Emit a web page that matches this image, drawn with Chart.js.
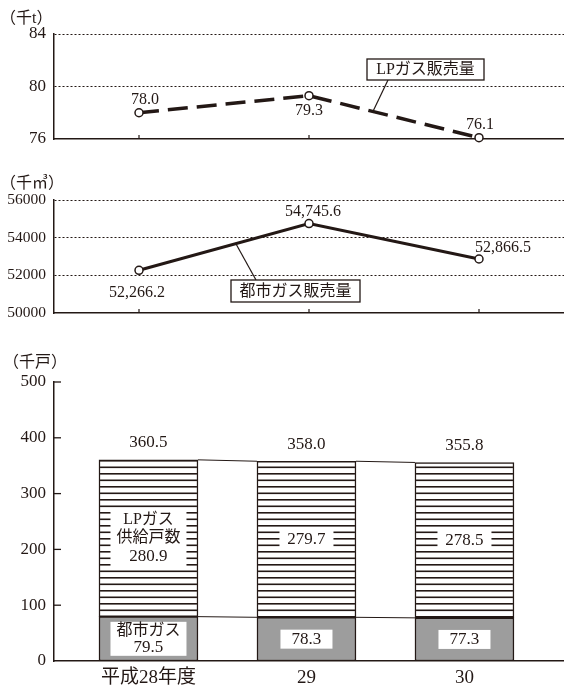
<!DOCTYPE html>
<html lang="ja">
<head>
<meta charset="utf-8">
<script src="https://cdn.jsdelivr.net/npm/chart.js@4.4.1/dist/chart.umd.min.js"></script>
<style>
  html, body { margin: 0; padding: 0; background: #fff; }
  #wrap { position: relative; width: 564px; height: 689px; overflow: hidden; }
  canvas { position: absolute; left: 0; }
</style>
</head>
<body>
<div id="wrap">
  <canvas id="lpChart" width="564" height="150" style="top:0px"></canvas>
  <canvas id="cityChart" width="564" height="170" style="top:150px"></canvas>
  <canvas id="hhChart" width="564" height="359" style="top:330px"></canvas>
</div>
<script>
// データ
const years = ['平成28年度', '29', '30'];
const lpSales = [78.0, 79.3, 76.1];                 // LPガス販売量 (千t)
const citySales = [52266.2, 54745.6, 52866.5];      // 都市ガス販売量 (千㎥)
const cityHouseholds = [79.5, 78.3, 77.3];          // 都市ガス (千戸)
const lpHouseholds = [280.9, 279.7, 278.5];         // LPガス供給戸数 (千戸)
const totalHouseholds = [360.5, 358.0, 355.8];      // 合計 (千戸)
const lpTicks = [76, 80, 84];
const cityTicks = [50000, 52000, 54000, 56000];
const hhTicks = [0, 100, 200, 300, 400, 500];

const INK = '#231815';
const GRAY = '#9d9d9d';
const FONT = '"Liberation Serif", "Noto Sans CJK JP", serif';
const font = size => `${size}px ${FONT}`;

function line(ctx, x1, y1, x2, y2) {
  ctx.beginPath();
  ctx.moveTo(x1, y1);
  ctx.lineTo(x2, y2);
  ctx.stroke();
}

function text(ctx, str, x, y, size, align) {
  ctx.font = font(size);
  ctx.fillStyle = INK;
  ctx.textAlign = align || 'center';
  ctx.textBaseline = 'middle';
  ctx.fillText(str, x, y);
}

// 白抜きの箱 (枠線あり/なし)
function box(ctx, cx, cy, w, h, border) {
  ctx.fillStyle = '#fff';
  ctx.fillRect(cx - w / 2, cy - h / 2, w, h);
  if (border) {
    ctx.strokeStyle = INK;
    ctx.lineWidth = 1.3;
    ctx.strokeRect(cx - w / 2, cy - h / 2, w, h);
  }
}

// 線上の点 (2点間の割合 t)
function along(a, b, t) {
  return { x: a.x + (b.x - a.x) * t, y: a.y + (b.y - a.y) * t };
}

const fmt1 = v => v.toFixed(1);
const fmtComma = v => v.toLocaleString('en-US', { minimumFractionDigits: 1, maximumFractionDigits: 1 });

// y軸の幅を固定し、目盛りラベルによる余白を消す
const fixY = w => s => { s.width = w; s.paddingTop = 0; s.paddingBottom = 0; };

function lineScales(ticks, tickSize, axisW, axisH) {
  return {
    x: {
      offset: true,
      grid: { display: false },
      border: { display: true, color: INK, width: 1.5 },
      ticks: { display: false },
      afterFit: s => { s.height = axisH; }
    },
    y: {
      min: ticks[0],
      max: ticks[ticks.length - 1],
      afterBuildTicks: s => { s.ticks = ticks.map(v => ({ value: v })); },
      ticks: { color: INK, font: { family: FONT, size: tickSize }, padding: 8, callback: v => String(v) },
      grid: {
        drawTicks: false,
        lineWidth: 1,
        color: c => (c.tick && c.tick.value === ticks[0]) ? 'rgba(0,0,0,0)' : INK
      },
      border: { display: true, color: INK, width: 1.5, dash: [2, 2] },
      afterFit: fixY(axisW)
    }
  };
}

const baseOptions = (top, scales) => ({
  responsive: false,
  animation: false,
  events: [],
  layout: { autoPadding: false, padding: { top: top, left: 0, right: 0, bottom: 0 } },
  plugins: { legend: { display: false }, tooltip: { enabled: false } },
  scales: scales
});

// 内向きの目盛り (x軸)
const innerTicks = {
  id: 'innerTicks',
  beforeDatasetsDraw(chart) {
    const ctx = chart.ctx;
    const xs = chart.scales.x;
    const bottom = chart.chartArea.bottom;
    ctx.save();
    ctx.strokeStyle = INK;
    ctx.lineWidth = 1.2;
    years.forEach((_, i) => {
      const px = xs.getPixelForValue(i);
      line(ctx, px, bottom, px, bottom - 4);
    });
    ctx.restore();
  }
};

// ---- LPガス販売量 ----
const lpLabels = {
  id: 'lpLabels',
  afterDatasetsDraw(chart) {
    const ctx = chart.ctx;
    const pts = chart.getDatasetMeta(0).data;
    ctx.save();
    text(ctx, '（千t）', 0, 19, 16, 'left');
    const off = [[6, -13], [0, 15], [1, -13]];
    pts.forEach((p, i) => text(ctx, fmt1(lpSales[i]), p.x + off[i][0], p.y + off[i][1], 16));
    // 吹き出し
    const tip = along(pts[1], pts[2], 0.376);
    ctx.strokeStyle = INK;
    ctx.lineWidth = 1.2;
    line(ctx, 388, 80, tip.x, tip.y);
    box(ctx, 425.5, 69.5, 117, 21, true);
    text(ctx, 'LPガス販売量', 425.5, 70, 16);
    ctx.restore();
  }
};

new Chart(document.getElementById('lpChart'), {
  type: 'line',
  data: {
    labels: years,
    datasets: [{
      data: lpSales,
      borderColor: INK,
      borderWidth: 3.5,
      borderDash: [20, 9],
      pointRadius: 4,
      pointBackgroundColor: '#fff',
      pointBorderColor: INK,
      pointBorderWidth: 1.5,
      tension: 0,
      clip: false
    }]
  },
  options: baseOptions(34, lineScales(lpTicks, 17, 54, 11)),
  plugins: [innerTicks, lpLabels]
});

// ---- 都市ガス販売量 ----
const cityLabels = {
  id: 'cityLabels',
  afterDatasetsDraw(chart) {
    const ctx = chart.ctx;
    const pts = chart.getDatasetMeta(0).data;
    ctx.save();
    text(ctx, '（千㎥）', 0, 34, 16, 'left');
    const off = [[-2, 22], [4, -12], [24, -11]];
    pts.forEach((p, i) => text(ctx, fmtComma(citySales[i]), p.x + off[i][0], p.y + off[i][1], 16));
    const tip = along(pts[0], pts[1], 0.57);
    ctx.strokeStyle = INK;
    ctx.lineWidth = 1.2;
    line(ctx, 256, 130, tip.x, tip.y);
    box(ctx, 295.5, 141, 129, 22, true);
    text(ctx, '都市ガス販売量', 295.5, 141.5, 16);
    ctx.restore();
  }
};

new Chart(document.getElementById('cityChart'), {
  type: 'line',
  data: {
    labels: years,
    datasets: [{
      data: citySales,
      borderColor: INK,
      borderWidth: 3,
      pointRadius: 4,
      pointBackgroundColor: '#fff',
      pointBorderColor: INK,
      pointBorderWidth: 1.5,
      tension: 0,
      clip: false
    }]
  },
  options: baseOptions(50, lineScales(cityTicks, 15.5, 54, 7)),
  plugins: [innerTicks, cityLabels]
});

// ---- 供給戸数 (積み上げ棒) ----
const hhCanvas = document.getElementById('hhChart');
function hatch() {
  const c = document.createElement('canvas');
  c.width = 8;
  c.height = 13;
  const g = c.getContext('2d');
  g.fillStyle = '#fff';
  g.fillRect(0, 0, 8, 13);
  g.fillStyle = INK;
  g.fillRect(0, 0, 8, 1.6);
  g.fillRect(0, 6.5, 8, 1.6);
  return hhCanvas.getContext('2d').createPattern(c, 'repeat');
}

const hhLabels = {
  id: 'hhLabels',
  afterDatasetsDraw(chart) {
    const ctx = chart.ctx;
    const ys = chart.scales.y;
    const ca = chart.chartArea;
    const bars = chart.getDatasetMeta(0).data;
    ctx.save();
    ctx.strokeStyle = INK;
    ctx.lineWidth = 1;
    // 棒の間の連結線
    for (let i = 0; i < bars.length - 1; i++) {
      const a = bars[i], b = bars[i + 1];
      line(ctx, a.x + a.width / 2, ys.getPixelForValue(totalHouseholds[i]), b.x - b.width / 2, ys.getPixelForValue(totalHouseholds[i + 1]));
      line(ctx, a.x + a.width / 2, ys.getPixelForValue(cityHouseholds[i]), b.x - b.width / 2, ys.getPixelForValue(cityHouseholds[i + 1]));
    }
    // y軸の内向き目盛り
    ctx.lineWidth = 1.3;
    hhTicks.slice(1).forEach(v => {
      const py = ys.getPixelForValue(v);
      line(ctx, ca.left, py, ca.left + 7, py);
    });
    text(ctx, '（千戸）', 3, 33, 16, 'left');

    bars.forEach((b, i) => {
      const yTot = ys.getPixelForValue(totalHouseholds[i]);
      const yCity = ys.getPixelForValue(cityHouseholds[i]);
      const yBase = ys.getPixelForValue(0);
      text(ctx, fmt1(totalHouseholds[i]), b.x, yTot - 17, 17);
      const lpMid = (yTot + yCity) / 2;
      const cityMid = (yCity + yBase) / 2;
      if (i === 0) {
        box(ctx, b.x, lpMid, 76, 58);
        text(ctx, 'LPガス', b.x, lpMid - 18, 16);
        text(ctx, '供給戸数', b.x, lpMid, 16);
        text(ctx, fmt1(lpHouseholds[i]), b.x, lpMid + 18, 17);
        box(ctx, b.x, cityMid, 76, 34);
        text(ctx, '都市ガス', b.x, cityMid - 8.5, 16);
        text(ctx, fmt1(cityHouseholds[i]), b.x, cityMid + 8.5, 17);
      } else {
        box(ctx, b.x, lpMid, 54, 20);
        text(ctx, fmt1(lpHouseholds[i]), b.x, lpMid + 0.5, 17);
        box(ctx, b.x, cityMid, 52, 19);
        text(ctx, fmt1(cityHouseholds[i]), b.x, cityMid + 0.5, 17);
      }
    });
    ctx.restore();
  }
};

const xMin = -0.598, xMax = 2.63;

new Chart(hhCanvas, {
  type: 'bar',
  data: {
    datasets: [
      {
        label: '都市ガス',
        data: cityHouseholds.map((v, i) => ({ x: i, y: v })),
        backgroundColor: GRAY,
        borderColor: INK,
        borderWidth: 1.5,
        borderSkipped: false,
        barThickness: 99
      },
      {
        label: 'LPガス供給戸数',
        data: lpHouseholds.map((v, i) => ({ x: i, y: v })),
        backgroundColor: hatch(),
        borderColor: INK,
        borderWidth: 1.5,
        borderSkipped: false,
        barThickness: 99
      }
    ]
  },
  options: baseOptions(52, {
    x: {
      type: 'linear',
      stacked: true,
      offset: false,
      min: xMin,
      max: xMax,
      afterBuildTicks: s => { s.ticks = years.map((_, i) => ({ value: i })); },
      ticks: {
        color: INK,
        font: { family: FONT, size: 19 },
        padding: 6,
        maxRotation: 0,
        callback: v => years[v]
      },
      grid: { display: false, drawTicks: false },
      border: { display: true, color: INK, width: 1.5 },
      afterFit: s => { s.height = 28; }
    },
    y: {
      stacked: true,
      min: hhTicks[0],
      max: hhTicks[hhTicks.length - 1],
      afterBuildTicks: s => { s.ticks = hhTicks.map(v => ({ value: v })); },
      ticks: { color: INK, font: { family: FONT, size: 17 }, padding: 8 },
      grid: { display: false, drawTicks: false },
      border: { display: true, color: INK, width: 1.5 },
      afterFit: fixY(54)
    }
  }),
  plugins: [hhLabels]
});
</script>
</body>
</html>
